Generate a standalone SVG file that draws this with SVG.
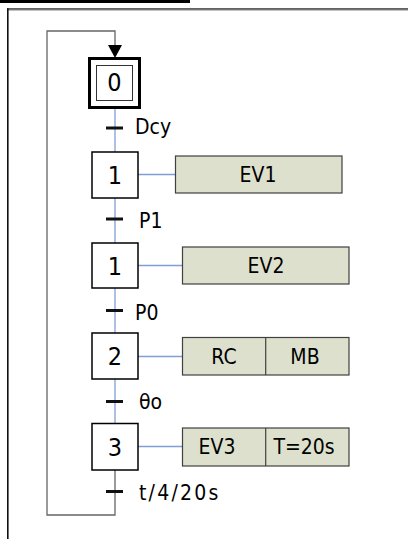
<svg xmlns="http://www.w3.org/2000/svg" width="408" height="539" viewBox="0 0 408 539">
<style>
.txt{font-family:"DejaVu Sans Condensed","DejaVu Sans",sans-serif;fill:#000}
.lbl{font-size:21px}
.num{font-size:25px;text-anchor:middle}
.act{font-size:21px;text-anchor:middle}
.step{fill:#fff;stroke:#000;stroke-width:1.5}
.action{fill:#dde0cc;stroke:#404040;stroke-width:1.2}
.blue{stroke:#7f9fd6;stroke-width:1.3;fill:none}
.grey{stroke:#666;stroke-width:1.3;fill:none}
.tick{stroke:#111;stroke-width:3}
</style>
<rect width="408" height="539" fill="#fff"/>
<g id="frame">
<rect x="0" y="0" width="190" height="3" fill="#000"/>
<rect x="7" y="8.3" width="401" height="1.4" fill="#222"/>
<rect x="7" y="9.7" width="401" height="0.9" fill="#999"/>
<rect x="7" y="8.3" width="1.6" height="531" fill="#111"/>
</g>
<g id="connectors">
<path class="grey" d="M115,470 V515 H47 V31 H115 V45"/>
<path d="M108,45 L122,45 L115,58 Z" fill="#000"/>
<line class="blue" x1="115" y1="108" x2="115" y2="152"/>
<line class="blue" x1="115" y1="198" x2="115" y2="243"/>
<line class="blue" x1="115" y1="288" x2="115" y2="333"/>
<line class="blue" x1="115" y1="379" x2="115" y2="423"/>
<line class="blue" x1="138" y1="174.5" x2="175" y2="174.5"/>
<line class="blue" x1="138" y1="265.5" x2="182" y2="265.5"/>
<line class="blue" x1="138" y1="356.5" x2="182" y2="356.5"/>
<line class="blue" x1="138" y1="446.5" x2="182" y2="446.5"/>
<line class="tick" x1="106" y1="128" x2="123" y2="128"/>
<line class="tick" x1="106" y1="219" x2="123" y2="219"/>
<line class="tick" x1="106" y1="310.5" x2="123" y2="310.5"/>
<line class="tick" x1="106" y1="401.5" x2="123" y2="401.5"/>
<line class="tick" x1="106" y1="491.5" x2="123" y2="491.5"/>
</g>
<g id="t0"><text class="txt lbl" x="135" y="134">Dcy</text></g>
<g id="t1"><text class="txt lbl" x="139" y="228">P1</text></g>
<g id="t2"><text class="txt lbl" x="135" y="320">P0</text></g>
<g id="t3"><text class="txt lbl" x="139" y="409">θo</text></g>
<g id="t4"><text class="txt lbl" x="139" y="500" letter-spacing="2.2">t/4/20s</text></g>
<g id="step0">
<rect x="89.5" y="58.5" width="50" height="49" fill="#fff" stroke="#000" stroke-width="3"/>
<rect x="96.5" y="65.5" width="36" height="35" fill="#fff" stroke="#333" stroke-width="1"/>
<text class="txt num" x="114.5" y="91">0</text>
</g>
<g id="step1">
<rect class="step" x="92" y="152" width="46" height="46"/>
<text class="txt num" x="115" y="184">1</text>
</g>
<g id="act1">
<rect class="action" x="175.5" y="156" width="166.5" height="37"/>
<text class="txt act" x="258" y="182">EV1</text>
</g>
<g id="step1b">
<rect class="step" x="92" y="243" width="46" height="45"/>
<text class="txt num" x="115" y="275">1</text>
</g>
<g id="act2">
<rect class="action" x="182.5" y="247" width="166.5" height="37"/>
<text class="txt act" x="266" y="273">EV2</text>
</g>
<g id="step2">
<rect class="step" x="92" y="333" width="46" height="46"/>
<text class="txt num" x="115" y="365">2</text>
</g>
<g id="act3">
<rect class="action" x="182.5" y="337.5" width="166.5" height="37.5"/>
<line x1="265.7" y1="337.5" x2="265.7" y2="375" stroke="#404040" stroke-width="1.2"/>
<text class="txt act" x="224" y="364">RC</text>
<text class="txt act" x="305" y="364">MB</text>
</g>
<g id="step3">
<rect class="step" x="92" y="423.5" width="46" height="46.5"/>
<text class="txt num" x="115" y="456">3</text>
</g>
<g id="act4">
<rect class="action" x="182.5" y="428" width="166.5" height="38"/>
<line x1="265.7" y1="428" x2="265.7" y2="466" stroke="#404040" stroke-width="1.2"/>
<text class="txt act" x="217" y="454">EV3</text>
<text class="txt act" x="304" y="454">T=20s</text>
</g>
</svg>
